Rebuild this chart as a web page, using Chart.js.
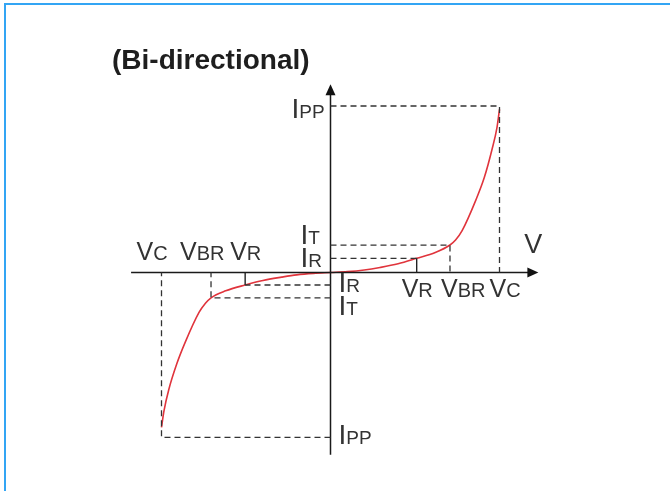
<!DOCTYPE html>
<html>
<head>
<meta charset="utf-8">
<script src="https://cdn.jsdelivr.net/npm/chart.js@4.4.1/dist/chart.umd.min.js"></script>
<style>
  html, body { margin: 0; padding: 0; background: #ffffff; }
  #wrap { position: relative; width: 670px; height: 491px; }
  canvas { display: block; }
</style>
</head>
<body>
<div id="wrap"><canvas id="c" width="670" height="491"></canvas></div>
<script>
// ---- data (abstract units) ----
const titleText = '(Bi-directional)';
const axisLabelV = 'V';

// characteristic marks, positive quadrant: [VR, VBR, VC] and [IR, IT, IPP]
const vMarksPos = [5.1, 7.07, 10.0];
const iMarksPos = [0.85, 1.65, 10.0];
// negative quadrant
const vMarksNeg = [-5.05, -7.07, -10.0];
const iMarksNeg = [-0.75, -1.52, -9.9];

const vNames = [['V', 'R'], ['V', 'BR'], ['V', 'C']];
const iNames = [['I', 'R'], ['I', 'T'], ['I', 'PP']];

// I-V curve, positive branch
const curvePosV = [0, 1.0, 2.0, 2.93, 4.0, 5.1, 6.2, 7.07, 7.4, 7.78, 8.6, 9.1, 9.56, 9.85, 10.0];
const curvePosI = [0, 0.05, 0.15, 0.3, 0.52, 0.85, 1.2, 1.65, 1.95, 2.5, 4.35, 5.7, 7.4, 8.7, 9.8];
// I-V curve, negative branch
const curveNegV = [-10.0, -9.85, -9.56, -9.1, -8.6, -7.78, -7.4, -7.07, -6.2, -5.05, -4.0, -2.9, -2.0, -1.0, 0];
const curveNegI = [-9.3, -8.3, -7.0, -5.5, -4.2, -2.4, -1.85, -1.52, -1.1, -0.75, -0.48, -0.28, -0.14, -0.05, 0];

// axis extents
const xAxisRange = [-11.8, 12.3];
const yAxisRange = [-10.95, 11.3];

// ---- build datasets ----
const pts = (xs, ys) => xs.map((x, i) => ({ x: x, y: ys[i] }));
const dashStyle = { borderColor: '#333333', borderWidth: 1.3, borderDash: [6, 4], pointRadius: 0, fill: false, tension: 0 };
const solidStyle = { borderColor: '#222222', borderWidth: 1.4, pointRadius: 0, fill: false, tension: 0 };

function guideSets(vm, im) {
  const [vr, vbr, vc] = vm;
  const [ir, it, ipp] = im;
  return [
    Object.assign({ data: [{x: 0, y: ipp}, {x: vc, y: ipp}, {x: vc, y: 0}] }, dashStyle),
    Object.assign({ data: [{x: 0, y: it}, {x: vbr, y: it}, {x: vbr, y: 0}] }, dashStyle),
    Object.assign({ data: [{x: 0, y: ir}, {x: vr, y: ir}] }, dashStyle),
    Object.assign({ data: [{x: vr, y: ir}, {x: vr, y: 0}] }, solidStyle)
  ];
}

const datasets = [].concat(
  guideSets(vMarksPos, iMarksPos),
  guideSets(vMarksNeg, iMarksNeg),
  [
    Object.assign({ data: [{x: xAxisRange[0], y: 0}, {x: xAxisRange[1] - 0.4, y: 0}] }, solidStyle, { borderColor: '#1a1a1a', borderWidth: 1.5 }),
    Object.assign({ data: [{x: 0, y: yAxisRange[0]}, {x: 0, y: yAxisRange[1] - 0.4}] }, solidStyle, { borderColor: '#1a1a1a', borderWidth: 1.5 }),
    { data: pts(curvePosV, curvePosI), borderColor: '#e0343c', borderWidth: 1.6, pointRadius: 0, fill: false, cubicInterpolationMode: 'monotone' },
    { data: pts(curveNegV, curveNegI), borderColor: '#e0343c', borderWidth: 1.6, pointRadius: 0, fill: false, cubicInterpolationMode: 'monotone' }
  ]
);

// ---- annotation plugin: arrows, labels, title, frame ----
const FONT = '"Liberation Sans", Arial, sans-serif';
function drawSub(ctx, x, y, main, sub, mainSize, subSize) {
  ctx.textAlign = 'left';
  ctx.textBaseline = 'alphabetic';
  ctx.font = mainSize + 'px ' + FONT;
  ctx.fillText(main, x, y);
  const w = ctx.measureText(main).width;
  ctx.font = subSize + 'px ' + FONT;
  ctx.fillText(sub, x + w, y);
}

const decor = {
  id: 'decor',
  afterDatasetsDraw(chart) {
    const ctx = chart.ctx;
    const xs = chart.scales.x, ys = chart.scales.y;
    const X = v => xs.getPixelForValue(v), Y = v => ys.getPixelForValue(v);
    const x0 = X(0), y0 = Y(0);
    ctx.save();
    // arrows
    ctx.fillStyle = '#111111';
    const ax = X(xAxisRange[1]);
    ctx.beginPath(); ctx.moveTo(ax, y0); ctx.lineTo(ax - 11, y0 - 5); ctx.lineTo(ax - 11, y0 + 5); ctx.closePath(); ctx.fill();
    const ay = Y(yAxisRange[1]);
    ctx.beginPath(); ctx.moveTo(x0, ay); ctx.lineTo(x0 - 5, ay + 11); ctx.lineTo(x0 + 5, ay + 11); ctx.closePath(); ctx.fill();

    ctx.fillStyle = '#333333';
    const VM = 25, VS = 20, IM = 28, IS = 19;
    // V labels above axis on negative side
    const negOff = [-15, -31, -25];
    vNames.forEach((n, i) => drawSub(ctx, X(vMarksNeg[i]) + negOff[i], y0 - 13, n[0], n[1], VM, VS));
    // V labels below axis on positive side
    const posOff = [-15, -9, -10];
    vNames.forEach((n, i) => drawSub(ctx, X(vMarksPos[i]) + posOff[i], y0 + 24, n[0], n[1], VM, VS));
    // I labels left of axis (positive)
    const iPosDy = [9, -1, 12];
    const iPosDx = [-30, -30, -39];
    iNames.forEach((n, i) => drawSub(ctx, x0 + iPosDx[i], Y(iMarksPos[i]) + iPosDy[i], n[0], n[1], IM, IS));
    // I labels right of axis (negative)
    const iNegDy = [7, 17, 7];
    iNames.forEach((n, i) => drawSub(ctx, x0 + 8, Y(iMarksNeg[i]) + iNegDy[i], n[0], n[1], IM, IS));
    // axis label
    ctx.font = '27px ' + FONT;
    ctx.textAlign = 'left';
    ctx.fillText(axisLabelV, ax - 14, y0 - 20);
    // title
    ctx.fillStyle = '#1e1e1e';
    ctx.font = 'bold 28px ' + FONT;
    ctx.fillText(titleText, 112, 69);
    // frame
    ctx.fillStyle = '#33a5f4';
    ctx.fillRect(4, 3, 666, 2);
    ctx.fillRect(4, 3, 2, 488);
    ctx.restore();
  }
};

new Chart(document.getElementById('c'), {
  type: 'scatter',
  data: { datasets: datasets.map(d => Object.assign({ showLine: true }, d)) },
  options: {
    responsive: false,
    animation: false,
    layout: { padding: { left: 93.9, right: 102.9, top: 72.7, bottom: 18.7 } },
    plugins: { legend: { display: false }, tooltip: { enabled: false }, title: { display: false } },
    scales: {
      x: { type: 'linear', min: -14, max: 14, display: false },
      y: { type: 'linear', min: -12, max: 12, display: false }
    }
  },
  plugins: [decor]
});
</script>
</body>
</html>
